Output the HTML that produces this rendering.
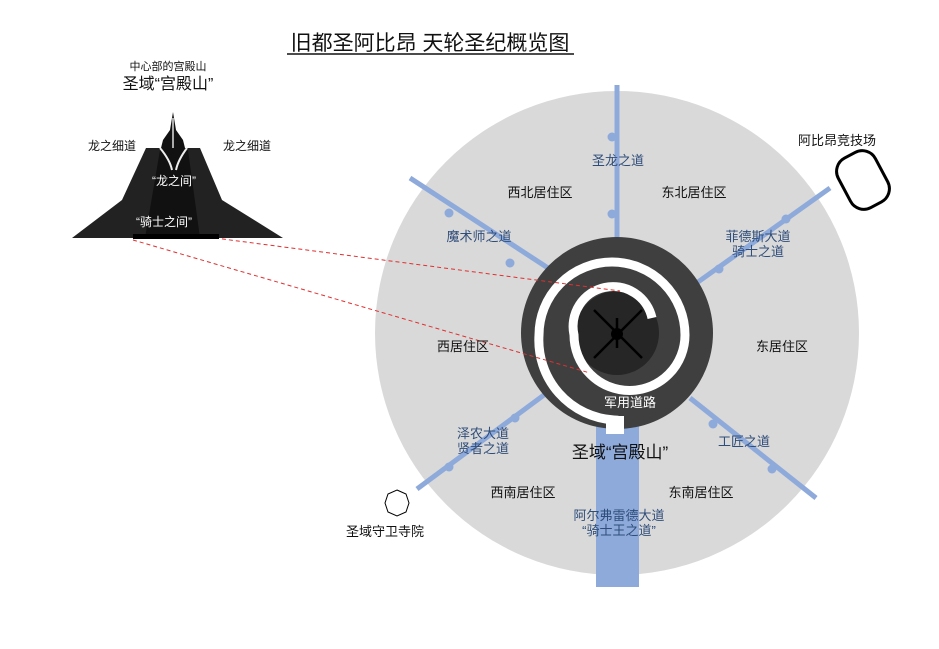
<!DOCTYPE html>
<html><head><meta charset="utf-8"><style>
html,body{margin:0;padding:0;background:#fff;width:939px;height:649px;overflow:hidden}
svg text{font-family:"Liberation Sans","Noto Sans CJK SC",sans-serif}
</style></head><body>
<svg width="939" height="649" viewBox="0 0 939 649" xmlns="http://www.w3.org/2000/svg">
<text x="430" y="50" font-size="21" text-anchor="middle" fill="#111">旧都圣阿比昂 天轮圣纪概览图</text>
<line x1="287" y1="54" x2="574" y2="54" stroke="#111" stroke-width="1.5"/>

<circle cx="617" cy="333" r="242" fill="#d9d9d9"/>
<g stroke="#8eaadb" stroke-width="5" stroke-linecap="butt">
<line x1="617" y1="85" x2="617" y2="245"/>
<line x1="410" y1="178" x2="548" y2="268"/>
<line x1="830" y1="188" x2="698" y2="282"/>
<line x1="417" y1="489" x2="548" y2="392"/>
<line x1="816" y1="498" x2="690" y2="398"/>
</g>
<rect x="596" y="420" width="43" height="167" fill="#8eaadb"/>
<g fill="#8eaadb">
<circle cx="612" cy="137" r="4.5"/><circle cx="612" cy="214" r="4.5"/>
<circle cx="449" cy="213" r="4.5"/><circle cx="510" cy="263" r="4.5"/>
<circle cx="786" cy="219" r="4.5"/><circle cx="719" cy="269" r="4.5"/>
<circle cx="515" cy="418" r="4.5"/><circle cx="449" cy="467" r="4.5"/>
<circle cx="772" cy="469" r="4.5"/><circle cx="713" cy="424" r="4.5"/>
</g>

<circle cx="617" cy="333" r="96" fill="#3f3f3f"/>
<circle cx="617" cy="333" r="42" fill="#262626"/>
<g stroke="#000" stroke-width="2.5">
<line x1="594" y1="310" x2="642" y2="358"/><line x1="642" y1="310" x2="594" y2="358"/>
<line x1="617" y1="318" x2="617" y2="348"/>
</g>
<circle cx="617" cy="334" r="6" fill="#000"/>
<path d="M652 318 A39 39 0 1 0 574 335 A55.5 55.5 0 0 0 685 335 A73 73 0 0 0 539 335 A80 80 0 0 0 614 420 L614 430" fill="none" stroke="#fff" stroke-width="9"/>
<rect x="606" y="416" width="18" height="18" fill="#fff"/>
<text x="630" y="407" font-size="13" fill="#fff" text-anchor="middle">军用道路</text>

<g stroke="#e03030" stroke-width="1" stroke-dasharray="4,3">
<line x1="215" y1="238" x2="620" y2="291"/>
<line x1="133" y1="240" x2="590" y2="373"/>
</g>

<g font-size="13" fill="#111" text-anchor="middle">
<text x="540" y="197">西北居住区</text>
<text x="694" y="197">东北居住区</text>
<text x="463" y="351">西居住区</text>
<text x="782" y="351">东居住区</text>
<text x="523" y="497">西南居住区</text>
<text x="701" y="497">东南居住区</text>
<text x="837" y="145">阿比昂竞技场</text>
<text x="385" y="536">圣域守卫寺院</text>
</g>
<g font-size="13" fill="#2f4d7a" text-anchor="middle">
<text x="618" y="165">圣龙之道</text>
<text x="479" y="241">魔术师之道</text>
<text x="758" y="241">菲德斯大道</text>
<text x="758" y="256">骑士之道</text>
<text x="483" y="438">泽农大道</text>
<text x="483" y="453">贤者之道</text>
<text x="744" y="446">工匠之道</text>
<text x="619" y="520">阿尔弗雷德大道</text>
<text x="619" y="535">“骑士王之道”</text>
</g>
<text x="620" y="458" font-size="17" fill="#111" text-anchor="middle">圣域“宫殿山”</text>

<rect x="842" y="152" width="42" height="56" rx="15" transform="rotate(-28 863 180)" fill="none" stroke="#000" stroke-width="3"/>
<polygon points="397,490 406,494 409,503 406,512 397,516 388,512 385,503 388,494" fill="#fff" stroke="#000" stroke-width="1"/>

<text x="168" y="70" font-size="11" fill="#111" text-anchor="middle">中心部的宫殿山</text>
<text x="168" y="89" font-size="16" fill="#111" text-anchor="middle">圣域“宫殿山”</text>
<text x="112" y="150" font-size="12" fill="#111" text-anchor="middle">龙之细道</text>
<text x="247" y="150" font-size="12" fill="#111" text-anchor="middle">龙之细道</text>
<polygon points="72,238 122,200 146,148 200,148 222,200 283,238" fill="#222"/>
<polygon points="160,150 176,148 188,150 200,238 145,238" fill="#111"/>
<polygon points="173,112 176,130 183,140 186,152 176,165 170,165 160,152 163,140 170,130" fill="#111"/>
<path d="M160 148 Q170 160 172 170 M187 148 Q178 160 176 170" stroke="#eee" stroke-width="2" fill="none"/>
<line x1="173" y1="118" x2="173" y2="148" stroke="#ddd" stroke-width="1.5"/>
<rect x="133" y="234" width="86" height="5" fill="#000"/>
<text x="174" y="185" font-size="12" fill="#fff" text-anchor="middle">“龙之间”</text>
<text x="164" y="226" font-size="12" fill="#fff" text-anchor="middle">“骑士之间”</text>
</svg>
</body></html>
